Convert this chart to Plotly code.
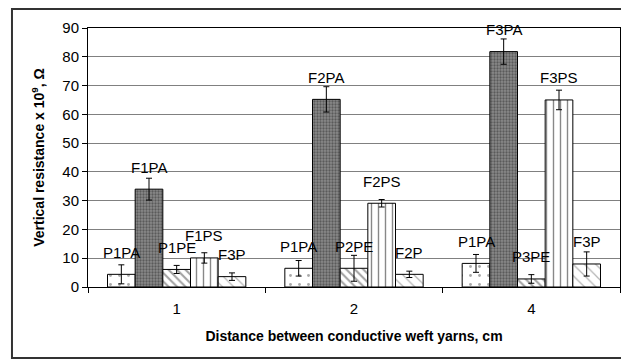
import plotly.graph_objects as go

categories = ["1", "2", "4"]
series_names = ["S1", "S2", "S3", "S4", "S5"]
values = [
    [4.4, 6.5, 8.2],
    [34.0, 65.2, 81.8],
    [6.1, 6.5, 2.8],
    [10.1, 29.1, 65.0],
    [3.6, 4.4, 8.0],
]
errors = [
    [3.3, 2.7, 3.1],
    [3.8, 4.4, 4.4],
    [1.4, 4.5, 1.5],
    [1.8, 1.3, 3.4],
    [1.3, 1.1, 4.2],
]
labels = [
    ["P1PA", "P1PA", "P1PA"],
    ["F1PA", "F2PA", "F3PA"],
    ["P1PE", "P2PE", "P3PE"],
    ["F1PS", "F2PS", "F3PS"],
    ["F3P", "F2P", "F3P"],
]

styles = [
    dict(color="white", pattern=dict(shape=".", fgcolor="#555", size=9, solidity=0.08)),
    dict(color="#8a8a8a", pattern=dict(shape=".", fgcolor="#2a2a2a", size=3, solidity=0.45)),
    dict(color="white", pattern=dict(shape="\\", fgcolor="#444", size=6, solidity=0.35)),
    dict(color="white", pattern=dict(shape="|", fgcolor="#111", size=7, solidity=0.2)),
    dict(color="white", pattern=dict(shape="\\", fgcolor="#666", size=8, solidity=0.15)),
]

FONT = "Liberation Sans, Arial, sans-serif"
BARGAP = 0.22
fig = go.Figure()
for i, name in enumerate(series_names):
    fig.add_trace(go.Bar(
        x=categories, y=values[i], name=name,
        marker=dict(color=styles[i]["color"], pattern=styles[i]["pattern"],
                    line=dict(color="black", width=1)),
        error_y=dict(type="data", array=errors[i], color="black", thickness=1, width=3),
        showlegend=False,
    ))

n = len(series_names)
bw = (1 - BARGAP) / n
annotations = []
for i in range(n):
    for j in range(len(categories)):
        xc = j - (1 - BARGAP) / 2 + bw * (i + 0.5)
        annotations.append(dict(
            x=xc, y=values[i][j], xref="x", yref="y", text=labels[i][j],
            showarrow=False, yanchor="middle", yshift=22,
            font=dict(family=FONT, size=15, color="black"),
        ))

fig.update_layout(
    width=621, height=354,
    margin=dict(l=80, r=9, t=20, b=75),
    paper_bgcolor="white", plot_bgcolor="white",
    barmode="group", bargap=BARGAP, bargroupgap=0,
    font=dict(family=FONT, size=15, color="black"),
    annotations=annotations,
    xaxis=dict(
        type="category", tickson="boundaries", ticks="outside", ticklen=5,
        tickcolor="black", showline=True, linecolor="black", linewidth=1, mirror=True,
        showgrid=False, tickfont=dict(size=15), ticklabelstandoff=8,
        title=dict(text="<b>Distance between conductive weft yarns, cm</b>",
                   font=dict(size=14), standoff=15),
    ),
    yaxis=dict(
        range=[0, 90], dtick=10, ticks="outside", ticklen=5, tickcolor="black",
        showline=True, linecolor="black", linewidth=1, mirror=True,
        showgrid=True, gridcolor="#808080", gridwidth=1, zeroline=False,
        tickfont=dict(size=15),
        title=dict(text="<b>Vertical resistance x 10<sup>9</sup>, Ω</b>",
                   font=dict(size=14), standoff=14),
    ),
    shapes=[dict(type="rect", xref="paper", yref="paper",
                 x0=-0.1429, x1=1.05, y0=-0.274, y1=1.073,
                 line=dict(color="#333", width=2), fillcolor="rgba(0,0,0,0)", layer="below")],
)

fig.write_html("out.html")
